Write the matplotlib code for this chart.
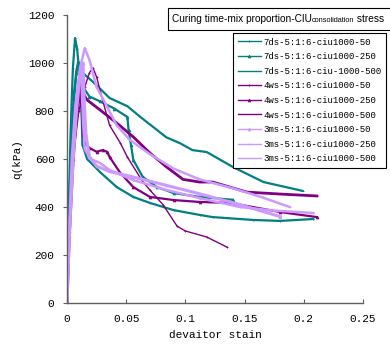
import matplotlib
matplotlib.use("Agg")
import matplotlib.pyplot as plt
from matplotlib.patches import Rectangle

# strain / q (kPa) for each test
ds7_50_x = [0, 0.001, 0.002, 0.003, 0.004, 0.005, 0.0068, 0.0085, 0.0105, 0.0125, 0.013, 0.017,
            0.022, 0.028, 0.042, 0.056, 0.070, 0.090, 0.112, 0.123, 0.157, 0.180, 0.208]
ds7_50_q = [0, 250, 500, 700, 850, 980, 1104, 1060, 960, 760, 660, 600,
            575, 545, 483, 442, 417, 387, 367, 358, 346, 342, 350]

ds7_250_x = [0, 0.001, 0.002, 0.004, 0.006, 0.008, 0.010, 0.0135, 0.019, 0.028, 0.040, 0.051,
             0.052, 0.054, 0.056, 0.064, 0.076, 0.090, 0.112, 0.140]
ds7_250_q = [0, 200, 420, 680, 850, 960, 1000, 900, 860, 840, 810, 775,
             720, 660, 596, 525, 483, 458, 442, 430]

ds7_500_x = [0, 0.001, 0.002, 0.004, 0.006, 0.008, 0.0095, 0.0135, 0.022, 0.036, 0.051, 0.062,
             0.084, 0.095, 0.106, 0.118, 0.140, 0.166, 0.199]
ds7_500_q = [0, 220, 450, 700, 880, 970, 1005, 958, 921, 854, 820, 775,
             690, 667, 637, 629, 567, 504, 467]

ws4_50_x = [0, 0.002, 0.005, 0.010, 0.015, 0.019, 0.022, 0.025, 0.030, 0.036, 0.045, 0.051,
            0.064, 0.070, 0.081, 0.093, 0.100, 0.118, 0.135]
ws4_50_q = [0, 300, 600, 800, 900, 960, 979, 942, 846, 740, 667, 608,
            505, 471, 410, 320, 300, 275, 233]

ws4_250_x = [0, 0.002, 0.005, 0.008, 0.011, 0.0127, 0.0135, 0.015, 0.019, 0.025, 0.030, 0.034,
             0.036, 0.045, 0.056, 0.070, 0.090, 0.112, 0.138, 0.180, 0.211]
ws4_250_q = [0, 300, 600, 800, 905, 812, 700, 667, 646, 630, 637, 630,
             608, 542, 483, 442, 429, 421, 417, 379, 358]

ws4_500_x = [0, 0.002, 0.005, 0.008, 0.012, 0.014, 0.017, 0.028, 0.042, 0.056, 0.070, 0.084,
             0.098, 0.112, 0.123, 0.152, 0.180, 0.211]
ws4_500_q = [0, 280, 580, 780, 910, 870, 846, 804, 750, 692, 625, 567,
             515, 504, 504, 462, 454, 446]

ms3_50_x = [0, 0.002, 0.005, 0.008, 0.011, 0.0135, 0.0145, 0.016, 0.019, 0.025, 0.036, 0.056,
            0.084, 0.112, 0.146, 0.180]
ms3_50_q = [0, 280, 580, 800, 950, 1000, 850, 700, 610, 570, 548, 525,
            490, 455, 410, 360]

ms3_250_x = [0, 0.002, 0.004, 0.007, 0.010, 0.012, 0.0135, 0.015, 0.020, 0.028, 0.036, 0.056,
             0.084, 0.112, 0.146, 0.175, 0.208]
ms3_250_q = [0, 320, 600, 820, 930, 960, 760, 640, 600, 583, 554, 512,
             471, 437, 400, 385, 375]

ms3_500_x = [0, 0.002, 0.005, 0.008, 0.011, 0.015, 0.019, 0.025, 0.034, 0.042, 0.053, 0.070,
             0.090, 0.112, 0.140, 0.165, 0.188]
ms3_500_q = [0, 300, 620, 850, 980, 1062, 1012, 900, 817, 740, 680, 620,
             560, 515, 478, 440, 400]

labels = ["7ds-5:1:6-ciu1000-50", "7ds-5:1:6-ciu1000-250", "7ds-5:1:6-ciu-1000-500",
          "4ws-5:1:6-ciu1000-50", "4ws-5:1:6-ciu1000-250", "4ws-5:1:6-ciu1000-500",
          "3ms-5:1:6-ciu1000-50", "3ms-5:1:6-ciu1000-250", "3ms-5:1:6-ciu1000-500"]

teal = "#008080"
purple = "#800080"
violet = "#cc99ff"

series = [
    (ds7_50_x, ds7_50_q, teal, "+", 1.6),
    (ds7_250_x, ds7_250_q, teal, "^", 1.6),
    (ds7_500_x, ds7_500_q, teal, "_", 1.6),
    (ws4_50_x, ws4_50_q, purple, "+", 1.0),
    (ws4_250_x, ws4_250_q, purple, "^", 1.6),
    (ws4_500_x, ws4_500_q, purple, "_", 2.0),
    (ms3_50_x, ms3_50_q, violet, "^", 2.2),
    (ms3_250_x, ms3_250_q, violet, "+", 1.8),
    (ms3_500_x, ms3_500_q, violet, "_", 1.8),
]

tick_font = "Liberation Mono"
W, H = 390, 349

fig = plt.figure(figsize=(3.9, 3.49), dpi=100)
ax = fig.add_axes([67 / W, 1 - 303 / H, 296 / W, 288 / H])

for (x, q, c, m, lw), lab in zip(series, labels):
    ax.plot(x, q, color=c, lw=lw, marker=m, ms=2, mew=0.6, label=lab)

ax.set_xlim(0, 0.25)
ax.set_ylim(0, 1200)
ax.set_xticks([0, 0.05, 0.1, 0.15, 0.2, 0.25])
ax.set_xticklabels(["0", "0.05", "0.1", "0.15", "0.2", "0.25"])
ax.set_yticks(range(0, 1201, 200))
for side in ["top", "right"]:
    ax.spines[side].set_visible(False)
for side in ["left", "bottom"]:
    ax.spines[side].set_color("#606060")
    ax.spines[side].set_linewidth(1.0)
ax.tick_params(axis="x", direction="in", length=3, color="#606060", pad=8)
ax.tick_params(axis="y", direction="out", length=3, color="#606060", pad=6)
for t in ax.get_xticklabels() + ax.get_yticklabels():
    t.set_fontfamily(tick_font)
    t.set_fontsize(8)
ax.set_xlabel("devaitor stain", fontfamily=tick_font, fontsize=8, labelpad=4)
ax.set_ylabel("q(kPa)", fontfamily=tick_font, fontsize=8, labelpad=4)

leg = ax.legend(loc="upper left", bbox_to_anchor=(233 / W, 1 - 33 / H),
                bbox_transform=fig.transFigure, frameon=True, fancybox=False,
                edgecolor="black", framealpha=1, borderpad=0.5, labelspacing=0.62,
                handlelength=2.6, handletextpad=0.3, borderaxespad=0,
                prop={"family": tick_font, "size": 6.5})
leg.get_frame().set_linewidth(0.8)
for h in leg.get_lines():
    h.set_linewidth(1.0)

# title box, its right side runs off the figure edge
parts = [("Curing time-mix proportion-CIU", 1.0, 0), ("consolidation", 0.72, -0.5), (" stress", 1.0, 0)]
fig.canvas.draw()
r = fig.canvas.get_renderer()
base = 7.0
total = 0
for s, f, dy in parts:
    tt = fig.text(0, 0, s, fontsize=base * f, fontfamily="Liberation Sans")
    total += tt.get_window_extent(r).width
    tt.remove()
base = base * 214 / total
xpos = 172
for s, f, dy in parts:
    tt = fig.text(xpos / W, 1 - (19.5 - dy) / H, s, fontsize=base * f,
                  fontfamily="Liberation Sans", va="center")
    xpos += tt.get_window_extent(r).width
fig.patches.append(Rectangle((168 / W, 1 - 30 / H), 0.6, 22 / H,
                             transform=fig.transFigure, fill=False,
                             edgecolor="black", lw=0.8))

fig.savefig("out.png", dpi=100)
